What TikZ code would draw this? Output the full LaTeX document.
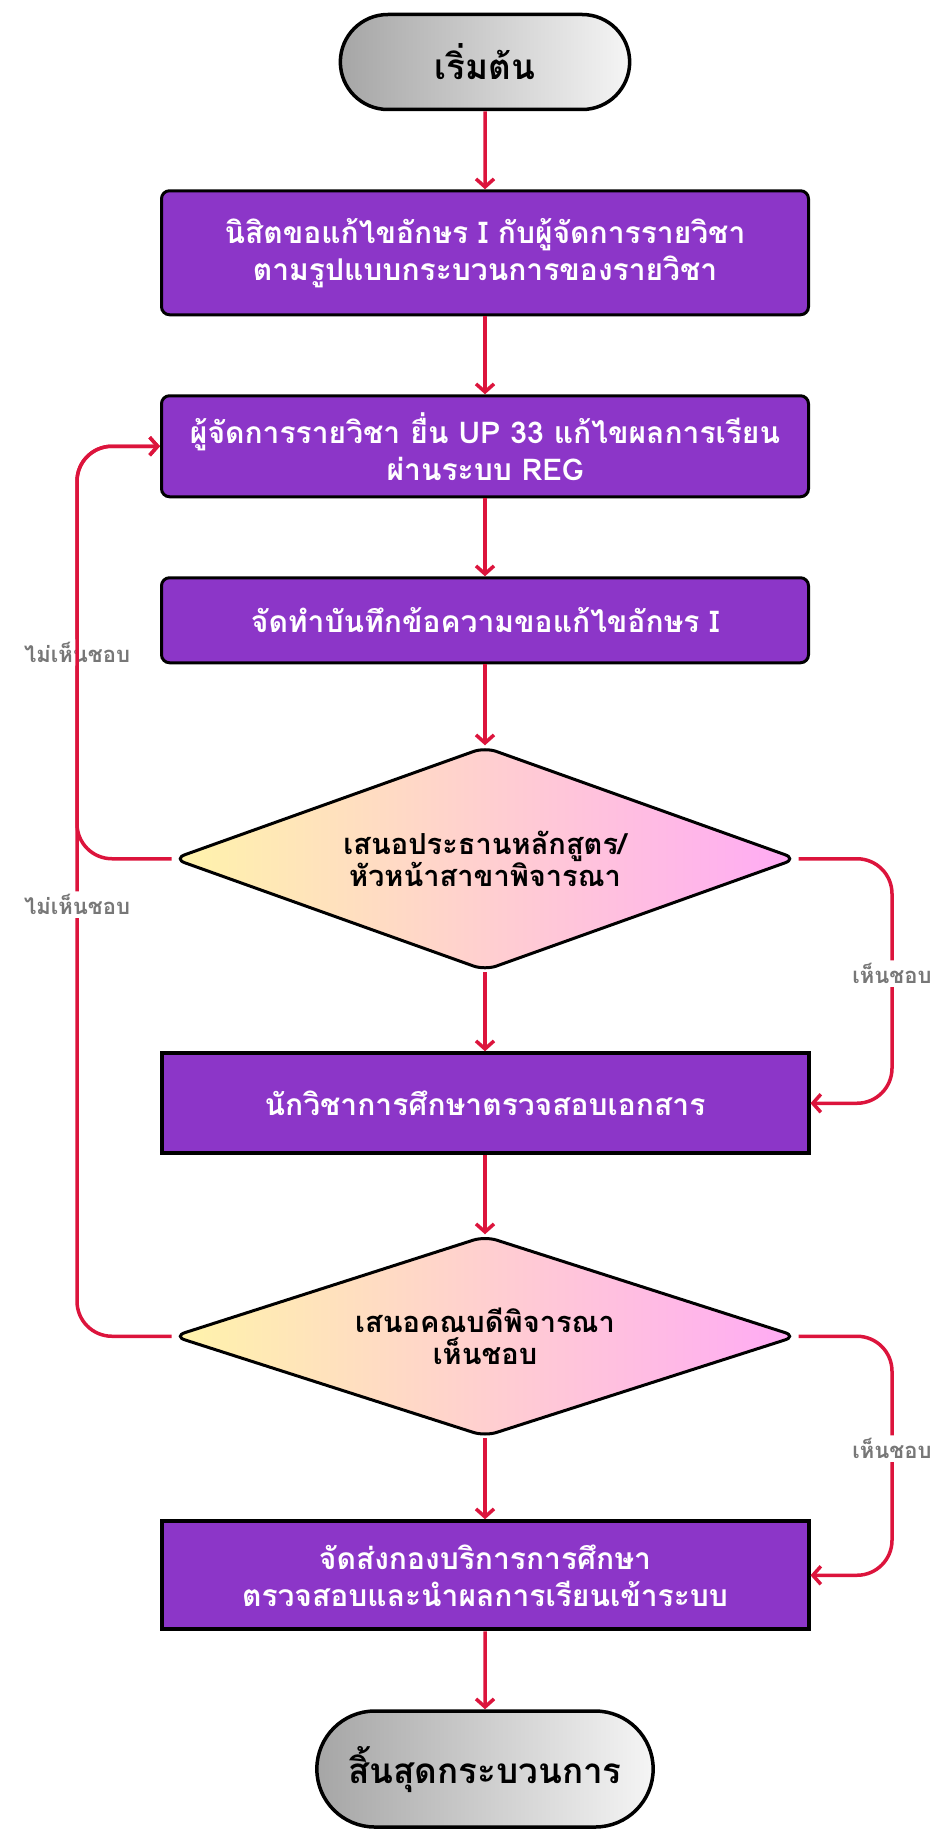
\documentclass[tikz,border=0pt]{standalone}
\usepackage{fontspec}
\setmainfont[Script=Thai]{Loma}
\usetikzlibrary{positioning,shapes.geometric,shapes.misc,arrows.meta}
\definecolor{boxpurple}{HTML}{8C36C8}
\definecolor{flowred}{HTML}{DC143C}
\definecolor{notegray}{HTML}{777777}
\definecolor{diayellow}{HTML}{FFF4AA}
\definecolor{diapink}{HTML}{FFAAF5}

\begin{document}
\begin{tikzpicture}[x=1pt, y=1pt, node distance=78pt,
    terminal/.style = {rounded rectangle, draw=black, line width=3.5pt,
        left color=black!35, right color=black!4, minimum width=296pt,
        minimum height=95pt, font=\bfseries\fontsize{35}{40}\selectfont},
    stepbox/.style = {rectangle, rounded corners=8pt, draw=black, line width=3pt,
        fill=boxpurple, text=white, minimum width=647pt, align=center,
        font=\bfseries\fontsize{30}{37}\selectfont},
    plainbox/.style = {stepbox, sharp corners, line width=4pt},
    decision/.style = {diamond, aspect=2.7, draw=black, line width=3pt,
        rounded corners=12pt, left color=diayellow, right color=diapink,
        inner sep=0pt, minimum width=624pt, align=center,
        font=\bfseries\fontsize{29}{32}\selectfont},
    note/.style = {fill=white, text=notegray, inner sep=3pt,
        font=\bfseries\fontsize{22}{24}\selectfont},
    flow/.style = {draw=flowred, line width=3.5pt, -{Straight Barb[length=8pt,width=18pt]}}]
  \useasboundingbox (0,0) rectangle (934,-1833);
  % main column
  \node[terminal] (start) at (485,-62) {เริ่มต้น};
  \node[stepbox, minimum height=124pt] (ask) [below=of start]
      {นิสิตขอแก้ไขอักษร I กับผู้จัดการรายวิชา\\ตามรูปแบบกระบวนการของรายวิชา};
  \node[stepbox, minimum height=101pt] (submit) [below=of ask]
      {ผู้จัดการรายวิชา ยื่น UP 33 แก้ไขผลการเรียน\\ผ่านระบบ REG};
  \node[stepbox, minimum height=85pt] (memo) [below=of submit]
      {จัดทำบันทึกข้อความขอแก้ไขอักษร I};
  \node[decision, minimum height=224pt] (chair) [below=81pt of memo]
      {เสนอประธานหลักสูตร/\\หัวหน้าสาขาพิจารณา};
  \node[plainbox, minimum height=100pt] (check) [below=79pt of chair]
      {นักวิชาการศึกษาตรวจสอบเอกสาร};
  \node[decision, minimum height=201pt] (dean) [below=79pt of check]
      {เสนอคณบดีพิจารณา\\เห็นชอบ};
  \node[plainbox, minimum height=108pt] (send) [below=81pt of dean]
      {จัดส่งกองบริการการศึกษา\\ตรวจสอบและนำผลการเรียนเข้าระบบ};
  \node[terminal, minimum width=343pt, minimum height=116pt] (finish) [below=of send]
      {สิ้นสุดกระบวนการ};

  % rails for the loops
  \coordinate (leftrail) at (77,0);
  \coordinate (rightrail) at (892,0);

  \foreach \a/\b in {start/ask, ask/submit, submit/memo, memo/chair,
                     chair/check, check/dean, dean/send, send/finish}
    \draw[flow] (\a) -- (\b);

  % not approved: back to submit
  \draw[flow, rounded corners=35pt] (chair.west) -- (chair.west -| leftrail)
      -- node[note] {ไม่เห็นชอบ} (submit.west -| leftrail) -- (submit.west);
  \draw[flow, rounded corners=35pt] (dean.west) -- (dean.west -| leftrail)
      -- node[note, pos=0.485] {ไม่เห็นชอบ} (submit.west -| leftrail) -- (submit.west);
  % approved
  \draw[flow, rounded corners=35pt] (chair.east) -- (chair.east -| rightrail)
      -- node[note, pos=0.47] {เห็นชอบ} (check.east -| rightrail) -- (check.east);
  \draw[flow, rounded corners=35pt] (dean.east) -- (dean.east -| rightrail)
      -- node[note, pos=0.47] {เห็นชอบ} (send.east -| rightrail) -- (send.east);
\end{tikzpicture}
\end{document}
